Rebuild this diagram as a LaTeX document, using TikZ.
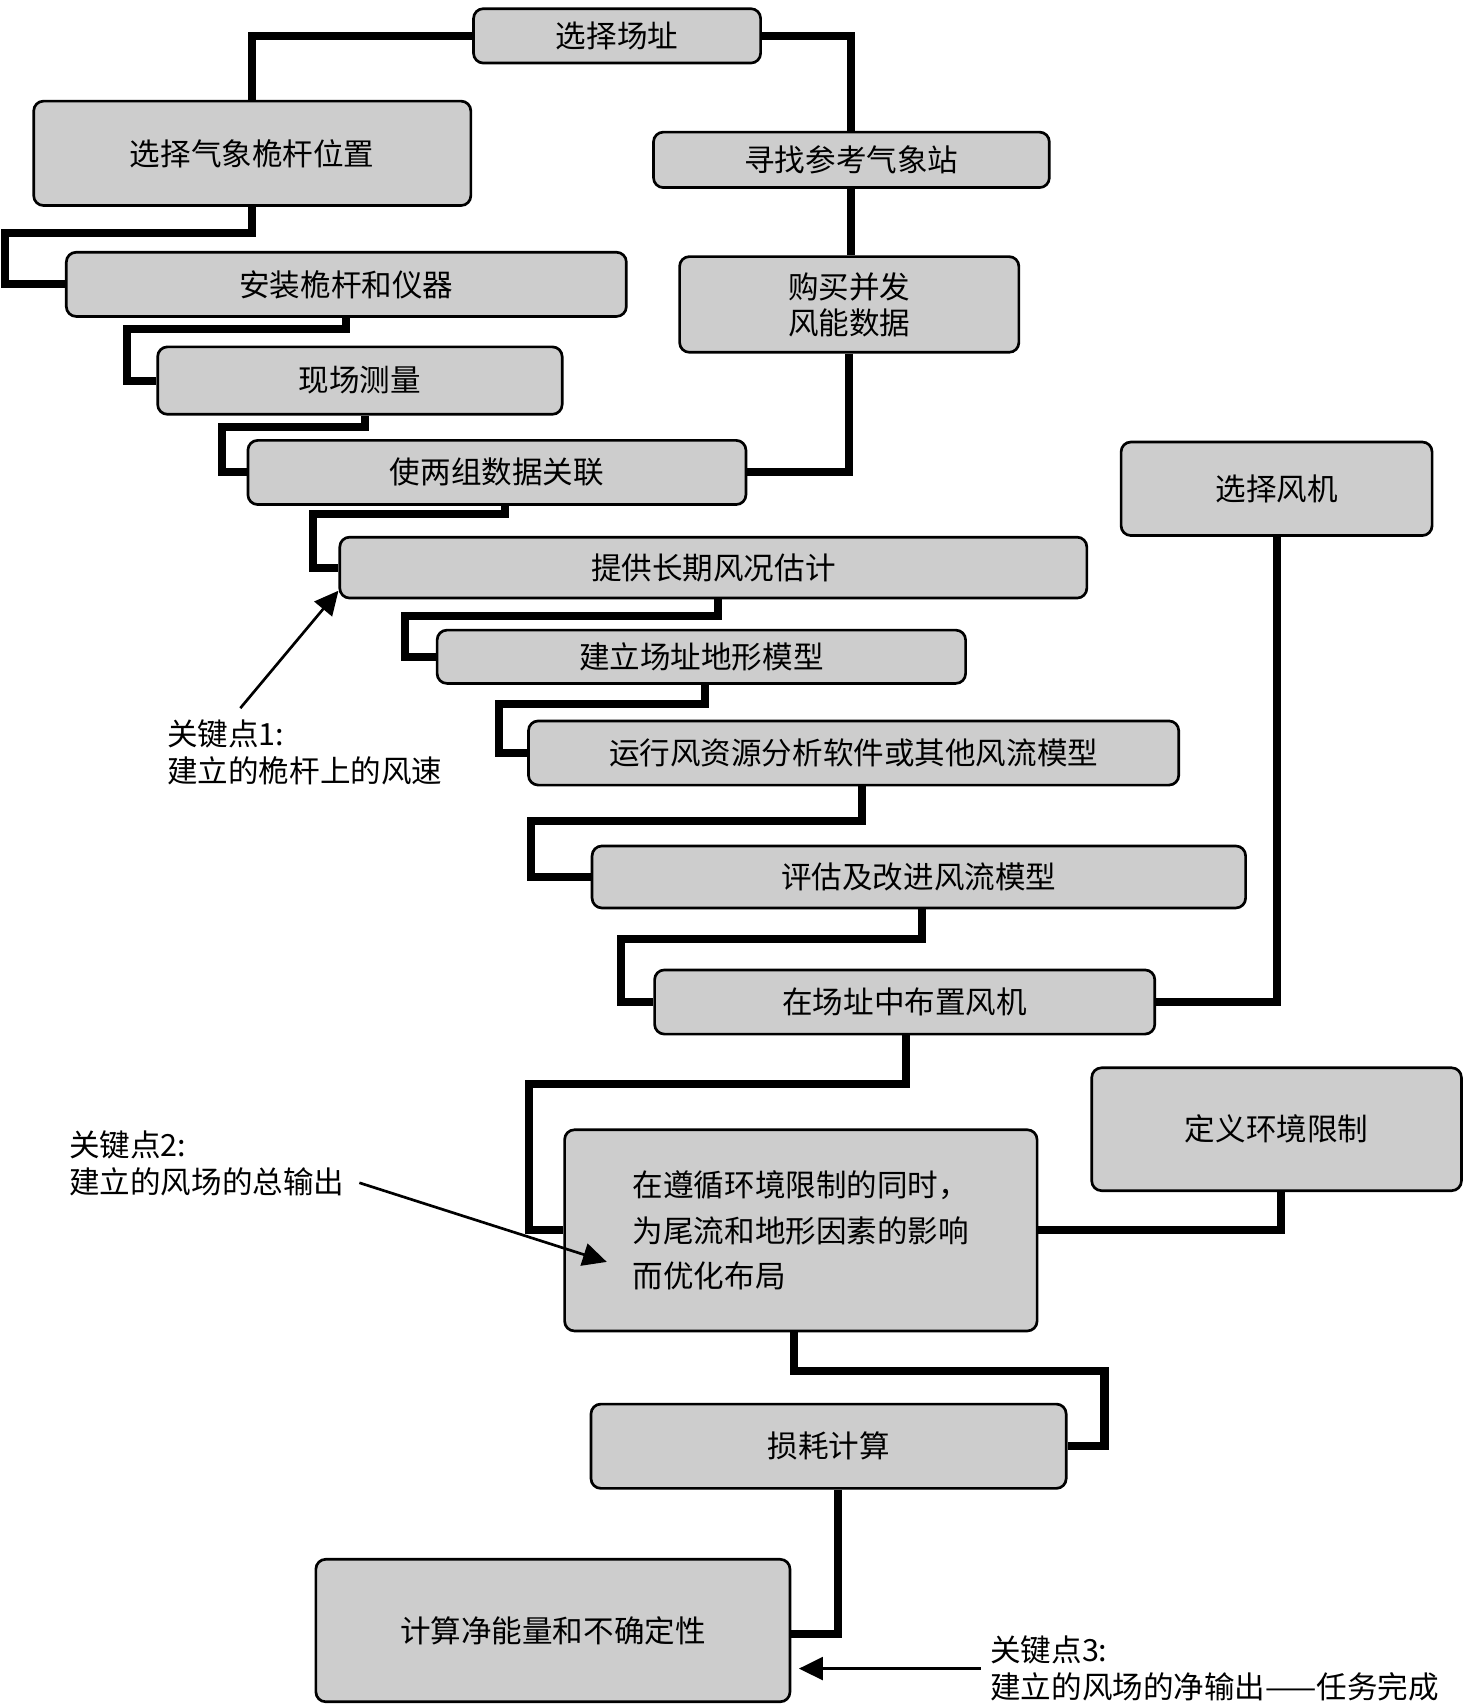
\documentclass[tikz,border=0pt]{standalone}
\usepackage{fontspec}
\setmainfont{Noto Sans CJK SC}
\usetikzlibrary{arrows.meta,calc}
\definecolor{boxGrey}{RGB}{205,205,205}

\begin{document}
\begin{tikzpicture}[
    box/.style={rectangle, rounded corners=0.9mm, draw=black, line width=0.7pt, fill=boxGrey, inner sep=0pt, align=center, font=\fontsize{8}{9.4}\selectfont},
    link/.style={line width=2.1pt},
    pointer/.style={-{Triangle[length=2.2mm,width=2.1mm]}, line width=0.7pt},
    note/.style={inner sep=0pt, anchor=west, align=left, font=\fontsize{8}{9.7}\selectfont}
]
\useasboundingbox (0,0) rectangle (13.46,-15.68);

% Top: site and measured data
\node[box, minimum width=2.64cm, minimum height=0.50cm] (site) at (5.675,-0.33) {选择场址};
\node[box, minimum width=4.02cm, minimum height=0.96cm] (mast) at (2.32,-1.41) {选择气象桅杆位置};
\node[box, minimum width=3.64cm, minimum height=0.51cm] (refst) at (7.83,-1.47) {寻找参考气象站};
\node[box, minimum width=5.15cm, minimum height=0.59cm] (install) at (3.185,-2.615) {安装桅杆和仪器};
\node[box, minimum width=3.12cm, minimum height=0.88cm] (buy) at (7.81,-2.80) {购买并发\\风能数据};
\node[box, minimum width=3.72cm, minimum height=0.62cm] (measure) at (3.31,-3.50) {现场测量};
\node[box, minimum width=4.58cm, minimum height=0.59cm] (corr) at (4.57,-4.345) {使两组数据关联};

% Middle: wind flow modelling
\node[box, minimum width=2.86cm, minimum height=0.86cm] (turbine) at (11.74,-4.495) {选择风机};
\node[box, minimum width=6.87cm, minimum height=0.56cm] (longterm) at (6.56,-5.22) {提供长期风况估计};
\node[box, minimum width=4.86cm, minimum height=0.49cm] (terrain) at (6.45,-6.04) {建立场址地形模型};
\node[box, minimum width=5.98cm, minimum height=0.59cm] (run) at (7.85,-6.925) {运行风资源分析软件或其他风流模型};
\node[box, minimum width=6.01cm, minimum height=0.57cm] (eval) at (8.45,-8.065) {评估及改进风流模型};
\node[box, minimum width=4.60cm, minimum height=0.59cm] (place) at (8.32,-9.215) {在场址中布置风机};

% Bottom: layout and energy
\node[box, minimum width=3.40cm, minimum height=1.13cm] (env) at (11.74,-10.385) {定义环境限制};
\node[box, minimum width=4.345cm, minimum height=1.85cm, align=left, font=\fontsize{8}{12}\selectfont] (opt) at (7.365,-11.315) {在遵循环境限制的同时，\\为尾流和地形因素的影响\\而优化布局};
\node[box, minimum width=4.37cm, minimum height=0.775cm] (loss) at (7.62,-13.30) {损耗计算};
\node[box, minimum width=4.36cm, minimum height=1.31cm] (net) at (5.085,-14.995) {计算净能量和不确定性};

% Connectors
\draw[link] (site.west) -| (mast.north);
\draw[link] (site.east) -| (refst.north);
\draw[link] (refst.south) -- (refst.south |- buy.north);
\draw[link] (buy.south) |- (corr.east);
\draw[link] (mast.south) -- ++(0,-0.24) -| ([xshift=-5.54mm]install.west) -- (install.west);
\draw[link] (install.south) -- ++(0,-0.10) -| ([xshift=-2.7mm]measure.west) -- (measure.west);
\draw[link] ([xshift=0.5mm]measure.south) -- ++(0,-0.106) -| ([xshift=-2.3mm]corr.west) -- (corr.west);
\draw[link] ([xshift=0.7mm]corr.south) -- ++(0,-0.075) -| ([xshift=-2.35mm]longterm.west) -- (longterm.west);
\draw[link] ([xshift=0.4mm]longterm.south) -- ++(0,-0.15) -| ([xshift=-2.8mm]terrain.west) -- (terrain.west);
\draw[link] ([xshift=0.3mm]terrain.south) -- ++(0,-0.18) -| ([xshift=-2.6mm]run.west) -- (run.west);
\draw[link] ([xshift=0.8mm]run.south) -- ++(0,-0.32) -| ([xshift=-5.5mm]eval.west) -- (eval.west);
\draw[link] ([xshift=0.25mm]eval.south) -- ++(0,-0.275) -| ([xshift=-3.0mm]place.west) -- (place.west);
\draw[link] (turbine.south) |- (place.east);
\draw[link] ([xshift=0.1mm]place.south) -- ++(0,-0.45) -| ([xshift=-3.15mm]opt.west) -- (opt.west);
\draw[link] ([xshift=0.4mm]env.south) |- (opt.east);
\draw[link] ([xshift=-0.65mm]opt.south) -- ++(0,-0.355) -| ([xshift=3.4mm]loss.east) -- (loss.east);
\draw[link] ([xshift=0.85mm]loss.south) |- ([yshift=-0.35mm]net.east);

% Key points
\node[note] (key1) at (1.53,-6.92) {关键点1:\\建立的桅杆上的风速};
\node[note] (key2) at (0.63,-10.70) {关键点2:\\建立的风场的总输出};
\node[note] (key3) at (9.10,-15.345) {关键点3:\\建立的风场的净输出——任务完成};

\draw[pointer] ([xshift=6.8mm,yshift=1mm]key1.north west) -- ([yshift=0.8mm]longterm.south west);
\draw[pointer] ([xshift=1.3mm,yshift=1.3mm]key2.south east) -- ([xshift=4mm,yshift=-2.9mm]opt.west);
\draw[pointer] ([xshift=-0.8mm]key3.west) -- ($(key3.west -| net.east)+(0.07,0)$);
\end{tikzpicture}
\end{document}
